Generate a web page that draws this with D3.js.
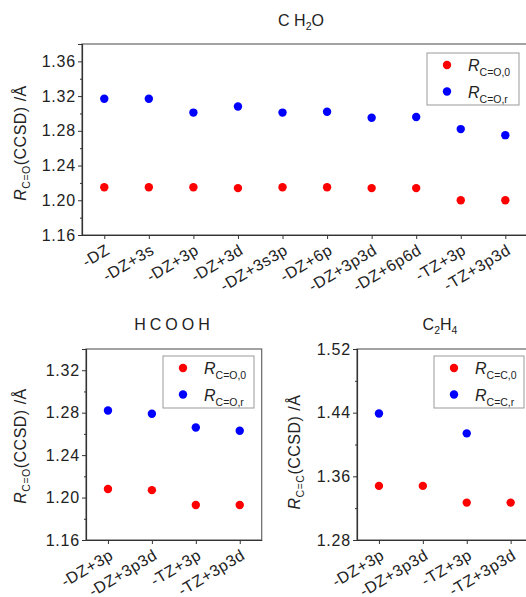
<!DOCTYPE html>
<html>
<head>
<meta charset="utf-8">
<script src="https://cdn.jsdelivr.net/npm/d3@7"></script>
<style>
  body { margin: 0; background: #fff; }
  svg { display: block; font-family: "Liberation Sans", Arial, sans-serif; }
  .tick text { fill: #222; }
</style>
</head>
<body>
<script>
// data
let ch2oBases = ["-DZ", "-DZ+3s", "-DZ+3p", "-DZ+3d", "-DZ+3s3p", "-DZ+6p", "-DZ+3p3d", "-DZ+6p6d", "-TZ+3p", "-TZ+3p3d"];
let ch2oR0 = [1.215, 1.215, 1.215, 1.214, 1.215, 1.215, 1.214, 1.214, 1.200, 1.200];
let ch2oRr = [1.317, 1.317, 1.301, 1.308, 1.301, 1.302, 1.295, 1.296, 1.282, 1.275];
let ch2oTicks = [1.16, 1.20, 1.24, 1.28, 1.32, 1.36];

let smallBases = ["-DZ+3p", "-DZ+3p3d", "-TZ+3p", "-TZ+3p3d"];
let hcoohR0 = [1.208, 1.207, 1.193, 1.193];
let hcoohRr = [1.282, 1.279, 1.266, 1.263];
let hcoohTicks = [1.16, 1.20, 1.24, 1.28, 1.32];

let c2h4R0 = [1.348, 1.348, 1.327, 1.327];
let c2h4Rr = [1.439, null, 1.414, null];
let c2h4Ticks = [1.28, 1.36, 1.44, 1.52];

let svg = d3.select("body").append("svg")
    .attr("width", 526)
    .attr("height", 597);

function drawPanel(p) {
    let g = svg.append("g");
    let x = d3.scalePoint().domain(p.cats).range([p.x0, p.x1]).padding(0.5);
    let y = d3.scaleLinear().domain(p.ydom).range([p.y0, p.y1]);

    // frame (top + right), right side may fall outside the picture
    g.append("rect")
        .attr("x", p.x0).attr("y", p.y1)
        .attr("width", p.x1 - p.x0).attr("height", p.y0 - p.y1)
        .attr("fill", "none").attr("stroke", "#666").attr("stroke-width", 1.2);

    // minor ticks
    g.append("g")
        .attr("transform", "translate(" + p.x0 + ",0)")
        .call(d3.axisLeft(y).tickValues(p.minor).tickSize(2).tickFormat(""))
        .call(a => a.select(".domain").remove())
        .selectAll("line").attr("stroke", "#333");

    let ya = g.append("g")
        .attr("transform", "translate(" + p.x0 + ",0)")
        .call(d3.axisLeft(y).tickValues(p.ticks).tickSize(4).tickPadding(2).tickFormat(d3.format(".2f")));
    ya.select(".domain").attr("stroke", "#333").attr("stroke-width", 1.2);
    ya.selectAll(".tick line").attr("stroke", "#333");
    ya.attr("font-family", null).attr("font-size", 16);
    ya.selectAll(".tick text").style("letter-spacing", "0.8px");

    let xa = g.append("g")
        .attr("transform", "translate(0," + p.y0 + ")")
        .call(d3.axisBottom(x).tickSize(4).tickSizeOuter(0));
    xa.select(".domain").attr("stroke", "#333").attr("stroke-width", 1.2);
    xa.selectAll(".tick line").attr("stroke", "#333");
    xa.attr("font-family", null).attr("font-size", 16);
    xa.selectAll(".tick text")
        .style("letter-spacing", "0.6px")
        .attr("text-anchor", "end")
        .attr("dy", null).attr("y", 0)
        .attr("transform", "translate(6,18) rotate(-31)");

    // points
    let series = [{vals: p.r0, color: "#ff0000"}, {vals: p.rr, color: "#0000ff"}];
    series.forEach(function (s) {
        g.selectAll(null)
            .data(p.cats.map((c, i) => ({c: c, v: s.vals[i]})).filter(d => d.v != null))
            .enter().append("circle")
            .attr("cx", d => x(d.c))
            .attr("cy", d => y(d.v))
            .attr("r", 4.2)
            .attr("fill", s.color);
    });

    // y label
    let yl = g.append("text")
        .attr("transform", "translate(" + p.ylx + "," + p.yly + ") rotate(-90)")
        .attr("text-anchor", "middle")
        .attr("font-size", 16).attr("fill", "#222")
        .style("letter-spacing", "0.5px");
    yl.append("tspan").attr("font-style", "italic").text("R");
    yl.append("tspan").attr("font-size", 10.5).attr("dy", 4).text(p.bond);
    yl.append("tspan").attr("dy", -4).text("(CCSD) /Å");

    // legend
    let lg = g.append("g");
    lg.append("rect")
        .attr("x", p.lx).attr("y", p.ly)
        .attr("width", p.lw).attr("height", 52)
        .attr("fill", "#fff").attr("stroke", "#999");
    ["0", "r"].forEach(function (k, i) {
        let cy = p.ly + 12 + i * 26.5;
        lg.append("circle")
            .attr("cx", p.lx + 20).attr("cy", cy).attr("r", 4.2)
            .attr("fill", i === 0 ? "#ff0000" : "#0000ff");
        let t = lg.append("text")
            .attr("x", p.lx + 41).attr("y", cy + 6)
            .attr("font-size", 16).attr("fill", "#222");
        t.append("tspan").attr("font-style", "italic").text("R");
        t.append("tspan").attr("font-size", 10.5).attr("dy", 5).text(p.bond + "," + k);
    });

    // title: [text, subscript?]
    let tt = svg.append("text")
        .attr("x", p.tx).attr("y", p.ty)
        .attr("text-anchor", "middle")
        .attr("font-size", 16).attr("fill", "#222")
        .style("letter-spacing", p.tls || null);
    let low = false;
    p.title.forEach(function (part) {
        let s = tt.append("tspan").text(part[0]);
        if (part[1] && !low) { s.attr("font-size", 10.5).attr("dy", 4); low = true; }
        else if (part[1]) s.attr("font-size", 10.5);
        else if (low) { s.attr("dy", -4); low = false; }
    });
}

drawPanel({
    cats: ch2oBases, r0: ch2oR0, rr: ch2oRr,
    ticks: ch2oTicks, minor: [1.18, 1.22, 1.26, 1.30, 1.34],
    ydom: [1.16, 1.38], x0: 82, x1: 527.6, y0: 235, y1: 44,
    bond: "C=O", ylx: 26, yly: 143,
    lx: 427, ly: 53,
    lw: 92, tx: 301, ty: 26,
    title: [["C H"], ["2", true], ["O"]]
});

drawPanel({
    cats: smallBases, r0: hcoohR0, rr: hcoohRr,
    ticks: hcoohTicks, minor: [1.18, 1.22, 1.26, 1.30],
    ydom: [1.16, 1.34], x0: 86, x1: 261.7, y0: 540, y1: 349,
    bond: "C=O", ylx: 26, yly: 446,
    lx: 163, ly: 356,
    lw: 91, tx: 174, ty: 330, tls: "4px",
    title: [["HCOOH"]]
});

drawPanel({
    cats: smallBases, r0: c2h4R0, rr: c2h4Rr,
    ticks: c2h4Ticks, minor: [1.32, 1.40, 1.48],
    ydom: [1.28, 1.52], x0: 357, x1: 532.6, y0: 540, y1: 349,
    bond: "C=C", ylx: 300, yly: 452,
    lx: 434, ly: 356,
    lw: 90, tx: 440, ty: 330,
    title: [["C"], ["2", true], ["H"], ["4", true]]
});
</script>
</body>
</html>
